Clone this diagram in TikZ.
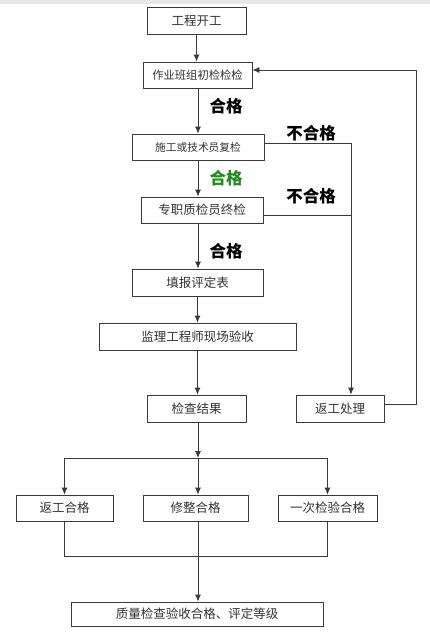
\documentclass[tikz,border=0pt]{standalone}
\usepackage{fontspec}
\setmainfont{Noto Sans CJK SC}
\usetikzlibrary{arrows.meta}
\definecolor{okgreen}{HTML}{1E8C1E}
\definecolor{boxtext}{HTML}{333333}
\definecolor{linecol}{HTML}{3A3A3A}
\tikzset{
  box/.style={draw=linecol, line width=0.8pt, fill=white, rectangle, inner sep=0pt, text=boxtext, font=\fontsize{12.5}{14}\selectfont},
  conn/.style={draw=linecol, line width=0.8pt},
  arr/.style={conn, -{Latex[length=7pt,width=6pt]}},
  lbl/.style={font=\fontsize{16.5}{18}\selectfont\bfseries, inner sep=0pt},
}
\begin{document}
\begin{tikzpicture}[x=1pt,y=-1pt]
\useasboundingbox (0,0) rectangle (430,635);
\fill[black!9] (0,0) rectangle (430,4);
% nodes
\node[box, minimum width=99pt, minimum height=27pt] (start) at (196.5,20.5) {工程开工};
\node[box, minimum width=109pt, minimum height=26pt, font=\fontsize{11.3}{13}\selectfont] (chk1) at (197.5,75) {作业班组初检检检};
\node[box, minimum width=132pt, minimum height=26pt, font=\fontsize{10.7}{13}\selectfont] (chk2) at (198,147) {施工或技术员复检};
\node[box, minimum width=122pt, minimum height=26pt] (chk3) at (202,210) {专职质检员终检};
\node[box, minimum width=131pt, minimum height=27pt] (form) at (197.5,282.5) {填报评定表};
\node[box, minimum width=197pt, minimum height=27pt] (super) at (197.5,336.5) {监理工程师现场验收};
\node[box, minimum width=99pt, minimum height=27pt] (result) at (196.5,408.5) {检查结果};
\node[box, minimum width=88pt, minimum height=27pt] (rework) at (340,408.5) {返工处理};
\node[box, minimum width=97pt, minimum height=26pt] (ok1) at (64.5,508) {返工合格};
\node[box, minimum width=105pt, minimum height=26pt] (ok2) at (195.5,508) {修整合格};
\node[box, minimum width=99pt, minimum height=26pt] (ok3) at (327.5,508) {一次检验合格};
\node[box, minimum width=252pt, minimum height=24pt] (final) at (197,614) {质量检查验收合格、评定等级};
% labels
\node[lbl] (l1) at (226,106) {合格};
\node[lbl, text=okgreen] (l2) at (226,178) {合格};
\node[lbl] (l3) at (226,251) {合格};
\node[lbl] (n1) at (311,133) {不合格};
\node[lbl] (n2) at (311,196) {不合格};
% coordinates
\coordinate (r1) at (351,143);
\coordinate (r2) at (351,215);
\coordinate (lp1) at (416,404);
\coordinate (lp2) at (416,70);
\coordinate (j1) at (198,458);
\coordinate (j2) at (198,556);
% main flow
\draw[arr] (start.south) -- (start.south |- chk1.north);
\draw[arr] (chk2.north |- chk1.south) -- (chk2.north);
\draw[arr] (chk2.south) -- (chk2.south |- chk3.north);
\draw[arr] (chk2.south |- chk3.south) -- (chk2.south |- form.north);
\draw[arr] (form.south) -- (form.south |- super.north);
\draw[arr] (super.south) -- (super.south |- result.north);
% rejection branch
\draw[conn] (chk2.east |- r1) -- (r1);
\draw[conn] (chk3.east |- r2) -- (r2);
\draw[arr] (r1) -- (r1 |- rework.north);
\draw[arr] (rework.east |- lp1) -- (lp1) -- (lp2) -- (chk1.east |- lp2);
% result split
\draw[arr] (result.south -| j1) -- (j1);
\draw[conn] (j1 -| ok1) -- (j1 -| ok3);
\draw[arr] (j1 -| ok1) -- (ok1.north);
\draw[arr] (j1) -- (j1 |- ok2.north);
\draw[arr] (j1 -| ok3) -- (ok3.north);
% merge
\draw[conn] (ok1.south) -- (j2 -| ok1) -- (j2 -| ok3) -- (ok3.south);
\draw[conn] (ok2.south -| j2) -- (j2);
\draw[arr] (j2) -- (j2 |- final.north);
\end{tikzpicture}
\end{document}
